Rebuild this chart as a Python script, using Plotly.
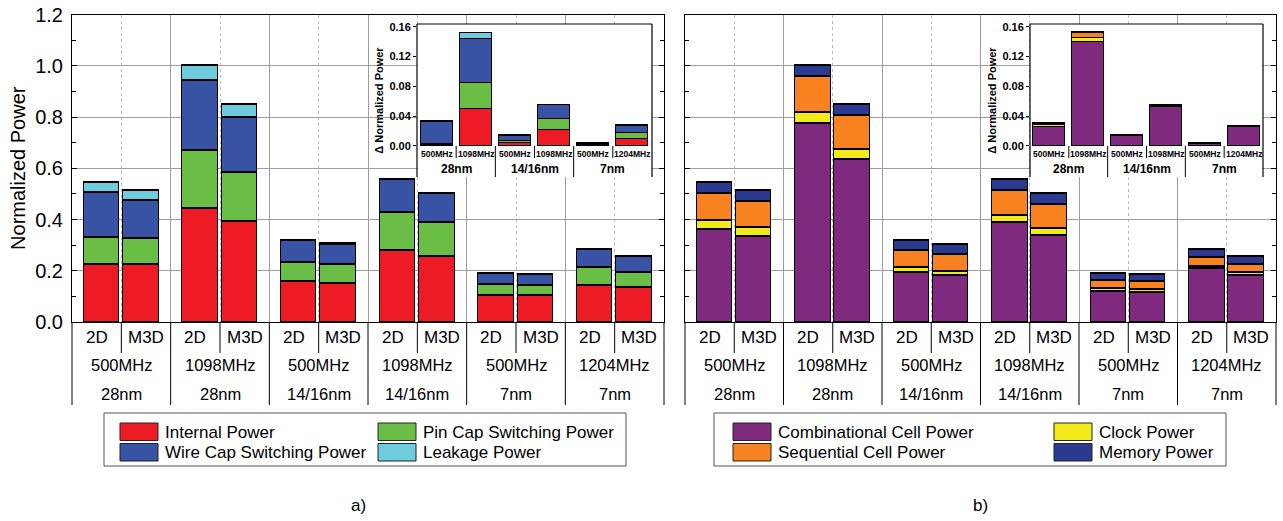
import plotly.graph_objects as go

W, H = 1283, 521

# ---------------- data ----------------
config_labels = ["2D", "M3D"]
freq_labels = ["500MHz", "1098MHz", "500MHz", "1098MHz", "500MHz", "1204MHz"]
node_labels = ["28nm", "28nm", "14/16nm", "14/16nm", "7nm", "7nm"]
inset_node_labels = ["28nm", "14/16nm", "7nm"]

# (a) power breakdown, order: 2D, M3D for each frequency/node group
internal_power = [0.226, 0.226, 0.443, 0.393, 0.157, 0.152, 0.278, 0.257, 0.105, 0.104, 0.144, 0.135]
pin_cap_power = [0.103, 0.099, 0.225, 0.191, 0.074, 0.072, 0.148, 0.133, 0.040, 0.039, 0.069, 0.060]
wire_cap_power = [0.178, 0.151, 0.273, 0.214, 0.087, 0.080, 0.130, 0.111, 0.043, 0.042, 0.068, 0.059]
leakage_power = [0.038, 0.036, 0.059, 0.051, 0.002, 0.001, 0.001, 0.001, 0.001, 0.001, 0.002, 0.001]

# (a) inset: delta (2D - M3D) per frequency/node group
d_internal = [0.001, 0.050, 0.004, 0.021, 0.001, 0.009]
d_pin_cap = [0.001, 0.034, 0.003, 0.015, 0.001, 0.009]
d_wire_cap = [0.030, 0.059, 0.007, 0.019, 0.001, 0.009]
d_leakage = [0.001, 0.008, 0.001, 0.0005, 0.0005, 0.001]

# (b) power breakdown
comb_power = [0.361, 0.335, 0.775, 0.635, 0.194, 0.180, 0.390, 0.337, 0.120, 0.116, 0.207, 0.181]
clock_power = [0.034, 0.033, 0.043, 0.038, 0.019, 0.019, 0.027, 0.026, 0.010, 0.011, 0.011, 0.011]
seq_power = [0.107, 0.102, 0.141, 0.134, 0.067, 0.066, 0.095, 0.095, 0.033, 0.032, 0.032, 0.031]
mem_power = [0.041, 0.042, 0.041, 0.043, 0.038, 0.038, 0.044, 0.043, 0.027, 0.027, 0.031, 0.031]

# (b) inset
d_comb = [0.026, 0.140, 0.0136, 0.0527, 0.002, 0.0255]
d_clock = [0.002, 0.0055, 0.0005, 0.0005, 0.0005, 0.0005]
d_seq = [0.002, 0.0065, 0.0005, 0.001, 0.001, 0.0005]
d_mem = [0.001, 0.0005, 0.0005, 0.001, 0.0005, 0.0005]

names_a = ["Internal Power", "Pin Cap Switching Power", "Wire Cap Switching Power", "Leakage Power"]
colors_a = ["#ED1C24", "#6ABD45", "#3953A4", "#6DCCDD"]
names_b = ["Combinational Cell Power", "Clock Power", "Sequential Cell Power", "Memory Power"]
colors_b = ["#7F2A7E", "#F2EB17", "#F7821F", "#2B3990"]

# ---------------- layout helpers ----------------
FONT = "Liberation Sans, Arial, sans-serif"
GRID = "#9e9e9e"
GRID_DOT = "#bdbdbd"


def px(x):
    return x / W


def py(y):
    return 1 - y / H


n_groups = len(freq_labels)
bar_offset = [0.595, 1.395]
x_main = [2 * g + bar_offset[c] for g in range(n_groups) for c in range(2)]
x_inset = [i + 0.5 for i in range(n_groups)]

fig = go.Figure()

def add_stack(series, names, colors, xs, width, xa, ya, lw):
    for vals, nm, col in zip(series, names, colors):
        fig.add_trace(go.Bar(
            x=xs, y=vals, width=width, name=nm,
            marker=dict(color=col, line=dict(color="black", width=lw)),
            xaxis=xa, yaxis=ya, showlegend=False, hoverinfo="name+y"))

add_stack([internal_power, pin_cap_power, wire_cap_power, leakage_power], names_a, colors_a, x_main, 0.72, "x", "y", 1.2)
add_stack([comb_power, clock_power, seq_power, mem_power], names_b, colors_b, x_main, 0.72, "x2", "y2", 1.2)
add_stack([d_internal, d_pin_cap, d_wire_cap, d_leakage], names_a, colors_a, x_inset, 0.82, "x3", "y3", 1.0)
add_stack([d_comb, d_clock, d_seq, d_mem], names_b, colors_b, x_inset, 0.82, "x4", "y4", 1.0)

Y_DOM = [py(322), py(14.5)]
INSET_Y_DOM = [py(177), py(24)]
INSET_RANGE = [-0.0416, 0.1636]


def main_x(dom, anchor):
    return dict(domain=dom, range=[0, 12], anchor=anchor, tick0=0, dtick=2,
                showgrid=True, gridcolor=GRID, gridwidth=1, showticklabels=False,
                ticks="", zeroline=False, showline=True, linecolor="black",
                linewidth=1, mirror=True,
                minor=dict(tick0=0, dtick=1, showgrid=True, gridcolor=GRID_DOT,
                           griddash="dot", gridwidth=1))


def main_y(anchor, labels):
    d = dict(domain=Y_DOM, range=[0, 1.2], anchor=anchor, tick0=0, dtick=0.2,
             tickformat=".1f", showgrid=True, gridcolor=GRID, gridwidth=1,
             ticks="inside", ticklen=5, tickcolor="black", showline=True,
             linecolor="black", linewidth=1, mirror="ticks", zeroline=False,
             showticklabels=labels, tickfont=dict(size=20, family=FONT),
             minor=dict(dtick=0.1, tick0=0, ticks="inside", ticklen=4,
                        tickcolor="black", showgrid=False))
    if labels:
        d["title"] = dict(text="Normalized Power", font=dict(size=20, family=FONT), standoff=4)
        d["ticklabelstandoff"] = 4
    return d


def inset_x(dom, anchor):
    return dict(domain=dom, range=[0, 6], anchor=anchor, showgrid=False,
                showticklabels=False, ticks="", zeroline=False, showline=False)


def inset_y(anchor):
    return dict(domain=INSET_Y_DOM, range=INSET_RANGE, anchor=anchor,
                tickvals=[0, 0.04, 0.08, 0.12, 0.16], tickformat=".2f",
                ticks="outside", ticklen=3, tickcolor="black", showgrid=False,
                zeroline=False, showline=False,
                tickfont=dict(size=11, family=FONT, weight="bold"),
                title=dict(text="Δ Normalized Power", standoff=3,
                           font=dict(size=11, family=FONT, weight="bold")))


fig.update_layout(
    width=W, height=H, template="none",
    margin=dict(l=0, r=0, t=0, b=0),
    barmode="stack", bargap=0,
    plot_bgcolor="white", paper_bgcolor="white", showlegend=False,
    font=dict(family=FONT, color="black"),
    xaxis=main_x([px(72), px(664)], "y"),
    yaxis=main_y("x", True),
    xaxis2=main_x([px(685), px(1276)], "y2"),
    yaxis2=main_y("x2", False),
    xaxis3=inset_x([px(417), px(652)], "y3"),
    yaxis3=inset_y("x3"),
    xaxis4=inset_x([px(1030), px(1263)], "y4"),
    yaxis4=inset_y("x4"),
)

shapes = []
annotations = []


def label(text, xref, x, y, size, weight="normal", xanchor="center"):
    annotations.append(dict(text=text, xref=xref, yref="paper", x=x, y=py(y),
                            xanchor=xanchor, yanchor="middle", showarrow=False,
                            font=dict(size=size, weight=weight)))


# category table below each main panel
for xa in ["x", "x2"]:
    for k in range(13):
        y_end = 405 if k % 2 == 0 else 353
        shapes.append(dict(type="line", xref=f"{xa} domain", yref="paper",
                           x0=k / 12, x1=k / 12, y0=py(322), y1=py(y_end),
                           line=dict(color="black", width=1)))
    for g in range(n_groups):
        for c in range(2):
            label(config_labels[c], xa, 2 * g + 0.5 + c, 337, 17)
        label(freq_labels[g], xa, 2 * g + 1, 365, 16.5)
        label(node_labels[g], xa, 2 * g + 1, 394, 16.5)

# inset frames and labels
zero_to_row = -(158 - 146) / ((146 - 26.7) / 0.16)
for xa, ya in [("x3", "y3"), ("x4", "y4")]:
    for (x0, y0, x1, y1) in [(0, 1, 1, 1), (0, 0, 0, 1), (1, 0, 1, 1)]:
        shapes.append(dict(type="line", xref=f"{xa} domain", yref=f"{ya} domain",
                           x0=x0, x1=x1, y0=y0, y1=y1, line=dict(color="black", width=1.2)))
    for k in range(1, 6):
        y_end = INSET_RANGE[0] if k % 2 == 0 else zero_to_row
        shapes.append(dict(type="line", xref=f"{xa} domain", yref=ya,
                           x0=k / 6, x1=k / 6, y0=0, y1=y_end,
                           line=dict(color="black", width=1)))
    for i in range(n_groups):
        label(freq_labels[i], xa, i + 0.5, 154, 8.5, "bold")
    for g in range(3):
        label(inset_node_labels[g], xa, 2 * g + 1, 169, 12, "bold")


# legends (drawn as boxes of swatches + labels)
def legend_box(x0, x1, names, colors, col_x, text_dx):
    shapes.append(dict(type="rect", xref="paper", yref="paper",
                       x0=px(x0), x1=px(x1), y0=py(413), y1=py(466),
                       line=dict(color="#555555", width=1), fillcolor="rgba(0,0,0,0)"))
    layout_pos = [(0, 0), (1, 0), (0, 1), (1, 1)]
    for (cx, ry), nm, colr in zip(layout_pos, names, colors):
        sx = col_x[cx]
        sy = 423 + ry * 20.5
        shapes.append(dict(type="rect", xref="paper", yref="paper",
                           x0=px(sx), x1=px(sx + 38), y0=py(sy), y1=py(sy + 17.5),
                           line=dict(color="#222222", width=1), fillcolor=colr))
        label(nm, "paper", px(sx + 38 + text_dx), sy + 9, 17, xanchor="left")


legend_box(104, 626, ["Internal Power", "Pin Cap Switching Power",
                      "Wire Cap Switching Power", "Leakage Power"],
           [colors_a[0], colors_a[1], colors_a[2], colors_a[3]], [120, 378], 5)
legend_box(714, 1226, ["Combinational Cell Power", "Clock Power",
                       "Sequential Cell Power", "Memory Power"],
           [colors_b[0], colors_b[1], colors_b[2], colors_b[3]], [733, 1054], 5)

label("a)", "paper", px(358), 505, 17)
label("b)", "paper", px(980), 505, 17)

fig.update_layout(shapes=shapes, annotations=annotations)
fig.write_html("out.html")
